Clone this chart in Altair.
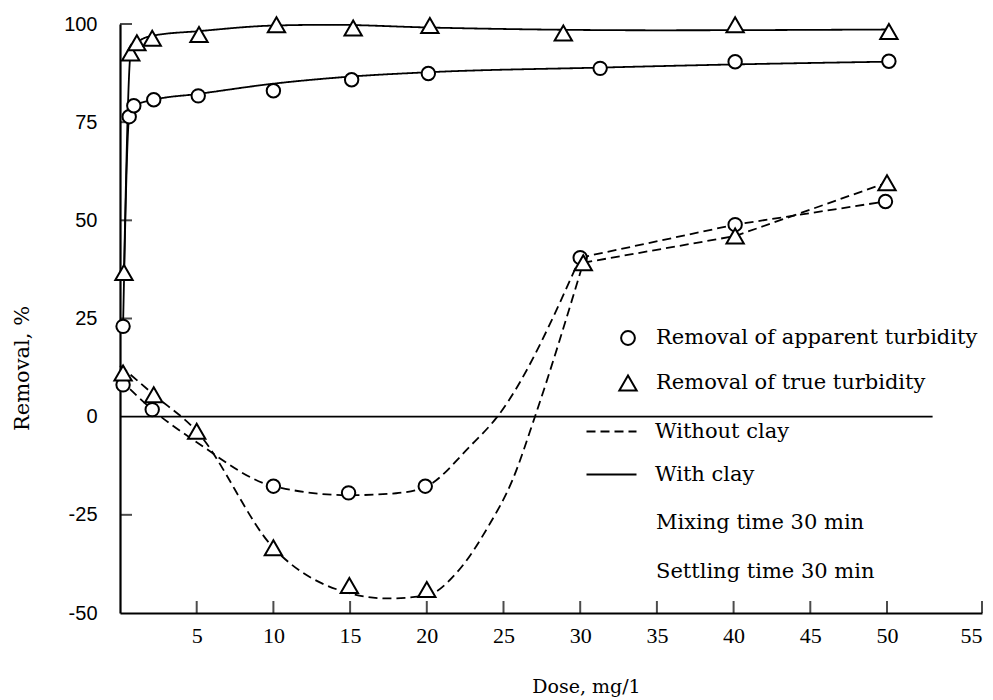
import altair as alt
import pandas as pd

# ---------------- data ----------------
APP = "Removal of apparent turbidity"
TRUE = "Removal of true turbidity"
NOCLAY = "Without clay"
CLAY = "With clay"

# markers: apparent turbidity, with clay (circles, solid)
app_clay_dose = [0.2, 0.6, 0.9, 2.2, 5.1, 10.0, 15.1, 20.1, 31.3, 40.1, 50.1]
app_clay_rem = [23.0, 76.4, 79.2, 80.7, 81.7, 83.0, 85.8, 87.4, 88.7, 90.4, 90.5]
# markers: true turbidity, with clay (triangles, solid)
true_clay_dose = [0.26, 0.7, 1.1, 2.1, 5.15, 10.2, 15.2, 20.2, 28.9, 40.1, 50.1]
true_clay_rem = [36.7, 92.6, 95.2, 96.4, 97.3, 99.8, 99.0, 99.6, 97.7, 99.8, 98.1]
# markers: apparent turbidity, without clay (circles, dashed)
app_noclay_dose = [0.2, 2.1, 10.0, 14.9, 19.9, 30.0, 40.1, 49.9]
app_noclay_rem = [8.1, 1.8, -17.7, -19.4, -17.7, 40.5, 48.9, 54.8]
# markers: true turbidity, without clay (triangles, dashed)
true_noclay_dose = [0.2, 2.2, 5.0, 10.0, 14.95, 20.0, 30.2, 40.1, 50.0]
true_noclay_rem = [11.1, 5.6, -3.7, -33.4, -43.0, -44.0, 39.2, 46.0, 59.6]

# smooth fitted curves as drawn in the reference
c_app_clay_x = [0.2, 0.6, 0.9, 2.2, 5.1, 10.0, 15.0, 20.0, 31.3, 40.0, 50.0]
c_app_clay_y = [23.0, 76.4, 79.2, 80.7, 82.2, 84.8, 86.6, 87.7, 88.9, 89.7, 90.4]
c_true_clay_x = [0.26, 0.7, 1.1, 2.1, 5.2, 10.0, 13.7, 20.2, 35.0, 50.0]
c_true_clay_y = [36.7, 92.6, 95.2, 97.0, 98.2, 99.6, 99.8, 99.1, 98.4, 98.6]
c_app_noclay_x = [0.0, 2.1, 5.0, 10.0, 15.0, 18.0, 20.0, 22.8, 24.6, 30.0]
c_app_noclay_y = [9.5, 1.8, -6.5, -17.7, -20.0, -19.5, -17.7, -7.6, 0.0, 40.5]
c_true_noclay_x = [0.0, 2.2, 5.0, 10.0, 15.0, 17.5, 20.0, 22.0, 24.0, 25.6, 27.05, 30.2]
c_true_noclay_y = [13.0, 5.6, -3.7, -33.4, -45.0, -46.3, -45.5, -39.5, -28.0, -16.0, 0.0, 39.2]
# straight dashed segments beyond dose 30
s_app_noclay_x = [30.0, 40.1, 49.9]
s_app_noclay_y = [40.5, 48.9, 54.8]
s_true_noclay_x = [30.2, 40.1, 50.0]
s_true_noclay_y = [39.2, 46.0, 59.6]

zero_line_x = [0.0, 52.4]
x_tick_values = [5, 10, 15, 20, 25, 30, 35, 40, 45, 50, 55]
y_tick_values = [-50, -25, 0, 25, 50, 75, 100]
y_inner_ticks = [-25, 25, 50, 75, 100]
notes = ["Mixing time 30 min", "Settling time 30 min"]

# ---------------- tables ----------------
def frame(xs, ys, measure, clay, series):
    return pd.DataFrame({"dose": xs, "removal": ys, "measure": measure,
                         "clay": clay, "series": series})

pts = pd.concat([
    frame(app_clay_dose, app_clay_rem, APP, CLAY, "a"),
    frame(true_clay_dose, true_clay_rem, TRUE, CLAY, "b"),
    frame(app_noclay_dose, app_noclay_rem, APP, NOCLAY, "c"),
    frame(true_noclay_dose, true_noclay_rem, TRUE, NOCLAY, "d"),
], ignore_index=True)

curves = pd.concat([
    frame(c_app_clay_x, c_app_clay_y, APP, CLAY, "a"),
    frame(c_true_clay_x, c_true_clay_y, TRUE, CLAY, "b"),
    frame(c_app_noclay_x, c_app_noclay_y, APP, NOCLAY, "c"),
    frame(c_true_noclay_x, c_true_noclay_y, TRUE, NOCLAY, "d"),
], ignore_index=True)

straights = pd.concat([
    frame(s_app_noclay_x, s_app_noclay_y, APP, NOCLAY, "c"),
    frame(s_true_noclay_x, s_true_noclay_y, TRUE, NOCLAY, "d"),
], ignore_index=True)

zero_df = pd.DataFrame({"dose": zero_line_x, "removal": [0.0, 0.0]})
xt_df = pd.DataFrame({"dose": x_tick_values})
yt_df = pd.DataFrame({"removal": y_inner_ticks})

# ---------------- styling ----------------
SERIF = "DejaVu Serif"
W, H = 862, 589

x_scale = alt.Scale(domain=[0, 50, 55], range=[0, 767, 862], nice=False, zero=False)
y_scale = alt.Scale(domain=[-50, 100], nice=False, zero=False)

x_axis = alt.Axis(values=x_tick_values, title="Dose,  mg/1", grid=False, ticks=False,
                  tickSize=0, domainColor="black", domainWidth=2.2,
                  labelFont="Liberation Serif", labelFontSize=22, labelColor="black",
                  labelPadding=12, labelBaseline="top",
                  titleFont=SERIF, titleFontSize=19, titleFontWeight="normal",
                  titleColor="black", titleX=466, titleY=73, titleBaseline="middle")
y_axis = alt.Axis(values=y_tick_values, title="Removal, %", grid=False, ticks=False,
                  tickSize=0, domainColor="black", domainWidth=2.2,
                  labelExpr="datum.value < 0 ? '-' + abs(datum.value) : '' + datum.value",
                  labelFont="Liberation Sans", labelFontSize=20, labelColor="black",
                  labelPadding=23, labelAlign="right", labelBaseline="middle",
                  titleFont=SERIF, titleFontSize=21, titleFontWeight="normal",
                  titleColor="black", titleX=-98, titleY=344, titleAngle=-90,
                  titleAlign="center", titleBaseline="middle")

X = alt.X("dose:Q", scale=x_scale, axis=x_axis)
Y = alt.Y("removal:Q", scale=y_scale, axis=y_axis)
Xn = alt.X("dose:Q", scale=x_scale)
Yn = alt.Y("removal:Q", scale=y_scale)

dash_enc = alt.StrokeDash(
    "clay:N",
    scale=alt.Scale(domain=[NOCLAY, CLAY], range=[[9, 5], [1, 0]]),
    legend=alt.Legend(title=None, orient="none", legendX=481, legendY=397,
                      symbolType="M-5,0L5,0", symbolSize=100, symbolStrokeWidth=2,
                      symbolStrokeColor="black", labelFont=SERIF, labelFontSize=21,
                      labelColor="black", labelOffset=33, rowPadding=21, padding=0,
                      labelLimit=0),
)

lines = alt.Chart(curves).mark_line(interpolate="monotone", color="black", strokeWidth=1.8).encode(
    x=X, y=Y, detail="series:N", strokeDash=dash_enc)

straight = alt.Chart(straights).mark_line(color="black", strokeWidth=1.8).encode(
    x=Xn, y=Yn, detail="series:N", strokeDash=dash_enc)

zero = alt.Chart(zero_df).mark_line(color="black", strokeWidth=1.8).encode(x=Xn, y=Yn)

shape_enc = alt.Shape(
    "measure:N",
    scale=alt.Scale(domain=[APP, TRUE], range=["circle", "triangle-up"]),
    legend=None,
)

circles = alt.Chart(pts).transform_filter(alt.datum.measure == APP).mark_point(
    filled=False, stroke="black", fill="white", fillOpacity=1, strokeWidth=2, size=180, opacity=1
).encode(x=Xn, y=Yn, shape=shape_enc)

triangles = alt.Chart(pts).transform_filter(alt.datum.measure == TRUE).mark_point(
    filled=False, stroke="black", fill="white", fillOpacity=1, strokeWidth=2, size=300, opacity=1
).encode(x=Xn, y=Yn, shape=shape_enc)

# marker key (drawn as a small legend block)
def key_symbol(label, shape, size, ypix):
    df = pd.DataFrame({"label": [label]})
    sym = alt.Chart(df).mark_point(
        shape=shape, size=size, filled=False, stroke="black", fill="white",
        fillOpacity=1, strokeWidth=2, opacity=1
    ).encode(x=alt.value(508), y=alt.value(ypix))
    txt = alt.Chart(df).mark_text(
        align="left", baseline="middle", font=SERIF, fontSize=21, color="black"
    ).encode(text="label:N", x=alt.value(536), y=alt.value(ypix))
    return sym + txt

key_app = key_symbol(APP, "circle", 190, 314)
key_true = key_symbol(TRUE, "triangle-up", 300, 359)

xticks = alt.Chart(xt_df).mark_tick(orient="vertical", size=12, thickness=2, color="black").encode(
    x=Xn, y=alt.value(H - 6))
yticks = alt.Chart(yt_df).mark_tick(orient="horizontal", size=12, thickness=2, color="black").encode(
    y=Yn, x=alt.value(6))

note1 = alt.Chart(pd.DataFrame({"t": [notes[0]]})).mark_text(
    align="left", baseline="middle", font=SERIF, fontSize=21, color="black"
).encode(text="t:N", x=alt.value(536), y=alt.value(499))
note2 = alt.Chart(pd.DataFrame({"t": [notes[1]]})).mark_text(
    align="left", baseline="middle", font=SERIF, fontSize=21, color="black"
).encode(text="t:N", x=alt.value(536), y=alt.value(548))

chart = alt.layer(lines, straight, zero, xticks, yticks, circles, triangles,
                  key_app, key_true, note1, note2).properties(
    width=W, height=H,
    autosize=alt.AutoSizeParams(type="none"),
    padding={"left": 120, "top": 24, "right": 11, "bottom": 87},
    background="white",
).configure_view(stroke=None)

chart.save("out.html", embed_options={"renderer": "svg", "actions": False})
